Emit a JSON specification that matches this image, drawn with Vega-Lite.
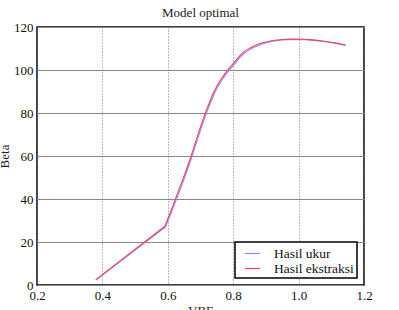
{
  "$schema": "https://vega.github.io/schema/vega-lite/v6.json",
  "autosize": {"type": "none"},
  "padding": {"left": 37, "top": 27, "right": 35, "bottom": 25},
  "width": 327,
  "height": 258,
  "background": "white",
  "config": {
    "font": "Liberation Serif, Times New Roman, DejaVu Serif, serif",
    "view": {"stroke": "black", "strokeWidth": 1.5},
    "axis": {"labelFont": "Liberation Serif, Times New Roman, DejaVu Serif, serif", "titleFont": "Liberation Serif, Times New Roman, DejaVu Serif, serif"},
    "legend": {"labelFont": "Liberation Serif, Times New Roman, DejaVu Serif, serif"}
  },
  "title": {
    "text": "Model optimal",
    "font": "Liberation Serif, Times New Roman, DejaVu Serif, serif",
    "fontSize": 13,
    "fontWeight": "normal",
    "color": "#222",
    "baseline": "alphabetic",
    "offset": 10,
    "dy": 19
  },
  "data": {
    "values": [
      {"s": "Hasil ukur", "vbe": 0.38, "beta": 2.3},
      {"s": "Hasil ukur", "vbe": 0.593, "beta": 27.0},
      {"s": "Hasil ukur", "vbe": 0.609, "beta": 33.0},
      {"s": "Hasil ukur", "vbe": 0.624, "beta": 38.9},
      {"s": "Hasil ukur", "vbe": 0.637, "beta": 44.1},
      {"s": "Hasil ukur", "vbe": 0.649, "beta": 48.9},
      {"s": "Hasil ukur", "vbe": 0.66, "beta": 53.6},
      {"s": "Hasil ukur", "vbe": 0.67, "beta": 57.9},
      {"s": "Hasil ukur", "vbe": 0.68, "beta": 62.6},
      {"s": "Hasil ukur", "vbe": 0.69, "beta": 67.4},
      {"s": "Hasil ukur", "vbe": 0.703, "beta": 73.4},
      {"s": "Hasil ukur", "vbe": 0.716, "beta": 79.2},
      {"s": "Hasil ukur", "vbe": 0.729, "beta": 84.2},
      {"s": "Hasil ukur", "vbe": 0.741, "beta": 88.6},
      {"s": "Hasil ukur", "vbe": 0.749, "beta": 91.0},
      {"s": "Hasil ukur", "vbe": 0.757, "beta": 93.2},
      {"s": "Hasil ukur", "vbe": 0.764, "beta": 95.0},
      {"s": "Hasil ukur", "vbe": 0.772, "beta": 96.7},
      {"s": "Hasil ukur", "vbe": 0.779, "beta": 98.2},
      {"s": "Hasil ukur", "vbe": 0.787, "beta": 99.7},
      {"s": "Hasil ukur", "vbe": 0.794, "beta": 101.0},
      {"s": "Hasil ukur", "vbe": 0.802, "beta": 102.4},
      {"s": "Hasil ukur", "vbe": 0.817, "beta": 105.2},
      {"s": "Hasil ukur", "vbe": 0.833, "beta": 107.7},
      {"s": "Hasil ukur", "vbe": 0.846, "beta": 109.0},
      {"s": "Hasil ukur", "vbe": 0.859, "beta": 110.2},
      {"s": "Hasil ukur", "vbe": 0.872, "beta": 111.1},
      {"s": "Hasil ukur", "vbe": 0.884, "beta": 111.9},
      {"s": "Hasil ukur", "vbe": 0.902, "beta": 112.7},
      {"s": "Hasil ukur", "vbe": 0.921, "beta": 113.4},
      {"s": "Hasil ukur", "vbe": 0.95, "beta": 114.0},
      {"s": "Hasil ukur", "vbe": 0.97, "beta": 114.15},
      {"s": "Hasil ukur", "vbe": 0.994, "beta": 114.2},
      {"s": "Hasil ukur", "vbe": 1.02, "beta": 114.1},
      {"s": "Hasil ukur", "vbe": 1.045, "beta": 113.8},
      {"s": "Hasil ukur", "vbe": 1.07, "beta": 113.4},
      {"s": "Hasil ukur", "vbe": 1.096, "beta": 112.8},
      {"s": "Hasil ukur", "vbe": 1.12, "beta": 112.2},
      {"s": "Hasil ukur", "vbe": 1.144, "beta": 111.4},
      {"s": "Hasil ekstraksi", "vbe": 0.38, "beta": 2.5},
      {"s": "Hasil ekstraksi", "vbe": 0.591, "beta": 27.3},
      {"s": "Hasil ekstraksi", "vbe": 0.607, "beta": 33.5},
      {"s": "Hasil ekstraksi", "vbe": 0.622, "beta": 39.5},
      {"s": "Hasil ekstraksi", "vbe": 0.635, "beta": 44.7},
      {"s": "Hasil ekstraksi", "vbe": 0.647, "beta": 49.5},
      {"s": "Hasil ekstraksi", "vbe": 0.658, "beta": 54.2},
      {"s": "Hasil ekstraksi", "vbe": 0.668, "beta": 58.5},
      {"s": "Hasil ekstraksi", "vbe": 0.678, "beta": 63.2},
      {"s": "Hasil ekstraksi", "vbe": 0.688, "beta": 68.0},
      {"s": "Hasil ekstraksi", "vbe": 0.701, "beta": 74.0},
      {"s": "Hasil ekstraksi", "vbe": 0.714, "beta": 79.8},
      {"s": "Hasil ekstraksi", "vbe": 0.727, "beta": 84.8},
      {"s": "Hasil ekstraksi", "vbe": 0.739, "beta": 89.2},
      {"s": "Hasil ekstraksi", "vbe": 0.747, "beta": 91.6},
      {"s": "Hasil ekstraksi", "vbe": 0.755, "beta": 93.8},
      {"s": "Hasil ekstraksi", "vbe": 0.762, "beta": 95.6},
      {"s": "Hasil ekstraksi", "vbe": 0.77, "beta": 97.3},
      {"s": "Hasil ekstraksi", "vbe": 0.777, "beta": 98.8},
      {"s": "Hasil ekstraksi", "vbe": 0.785, "beta": 100.3},
      {"s": "Hasil ekstraksi", "vbe": 0.792, "beta": 101.6},
      {"s": "Hasil ekstraksi", "vbe": 0.8, "beta": 103.0},
      {"s": "Hasil ekstraksi", "vbe": 0.815, "beta": 105.8},
      {"s": "Hasil ekstraksi", "vbe": 0.831, "beta": 108.3},
      {"s": "Hasil ekstraksi", "vbe": 0.844, "beta": 109.6},
      {"s": "Hasil ekstraksi", "vbe": 0.857, "beta": 110.7},
      {"s": "Hasil ekstraksi", "vbe": 0.87, "beta": 111.6},
      {"s": "Hasil ekstraksi", "vbe": 0.882, "beta": 112.3},
      {"s": "Hasil ekstraksi", "vbe": 0.9, "beta": 113.0},
      {"s": "Hasil ekstraksi", "vbe": 0.92, "beta": 113.7},
      {"s": "Hasil ekstraksi", "vbe": 0.95, "beta": 114.2},
      {"s": "Hasil ekstraksi", "vbe": 0.97, "beta": 114.35},
      {"s": "Hasil ekstraksi", "vbe": 0.994, "beta": 114.4},
      {"s": "Hasil ekstraksi", "vbe": 1.02, "beta": 114.3},
      {"s": "Hasil ekstraksi", "vbe": 1.045, "beta": 114.0},
      {"s": "Hasil ekstraksi", "vbe": 1.07, "beta": 113.6},
      {"s": "Hasil ekstraksi", "vbe": 1.096, "beta": 113.0},
      {"s": "Hasil ekstraksi", "vbe": 1.12, "beta": 112.4},
      {"s": "Hasil ekstraksi", "vbe": 1.144, "beta": 111.6}
    ]
  },
  "mark": {"type": "line", "strokeWidth": 1.1, "interpolate": "linear"},
  "encoding": {
    "x": {
      "field": "vbe",
      "type": "quantitative",
      "scale": {"domain": [0.2, 1.2], "nice": false, "zero": false},
      "axis": {
        "values": [0.2, 0.4, 0.6, 0.8, 1, 1.2],
        "title": "VBE",
        "titleFontSize": 13,
        "titleFontWeight": "normal",
        "titleColor": "#222",
        "titleBaseline": "top",
        "titleY": 19,
        "labelFontSize": 13,
        "labelColor": "#111",
        "labelPadding": 4,
        "labelFlush": false,
        "labelOverlap": false,
        "ticks": false,
        "domain": false,
        "grid": true,
        "gridColor": "#777",
        "gridDash": [1, 2],
        "gridWidth": 1,
        "gridOpacity": 1
      }
    },
    "y": {
      "field": "beta",
      "type": "quantitative",
      "scale": {"domain": [0, 120], "nice": false},
      "axis": {
        "values": [0, 20, 40, 60, 80, 100, 120],
        "title": "Beta",
        "titleFontSize": 13,
        "titleFontWeight": "normal",
        "titleColor": "#222",
        "titleAngle": 270,
        "titleBaseline": "alphabetic",
        "titleAlign": "center",
        "titleX": -28.5,
        "titleY": 129,
        "labelFontSize": 13,
        "labelColor": "#111",
        "labelPadding": 4,
        "labelFlush": false,
        "labelOverlap": false,
        "ticks": false,
        "domain": false,
        "grid": true,
        "gridColor": "#888",
        "gridWidth": 1,
        "gridOpacity": 1
      }
    },
    "color": {
      "field": "s",
      "type": "nominal",
      "scale": {"domain": ["Hasil ukur", "Hasil ekstraksi"], "range": ["#8a8aff", "#ff3b5c"]},
      "legend": {
        "title": null,
        "orient": "bottom-right",
        "offset": 7,
        "padding": 3,
        "strokeColor": "black",
        "fillColor": "white",
        "symbolType": "stroke",
        "symbolSize": 225,
        "symbolStrokeWidth": 1.2,
        "symbolOffset": 6,
        "labelFontSize": 13.5,
        "labelColor": "#111",
        "labelOffset": 13,
        "rowPadding": 0,
        "encode": {"legend": {"update": {"strokeWidth": {"value": 1.5}}}}
      }
    }
  }
}
